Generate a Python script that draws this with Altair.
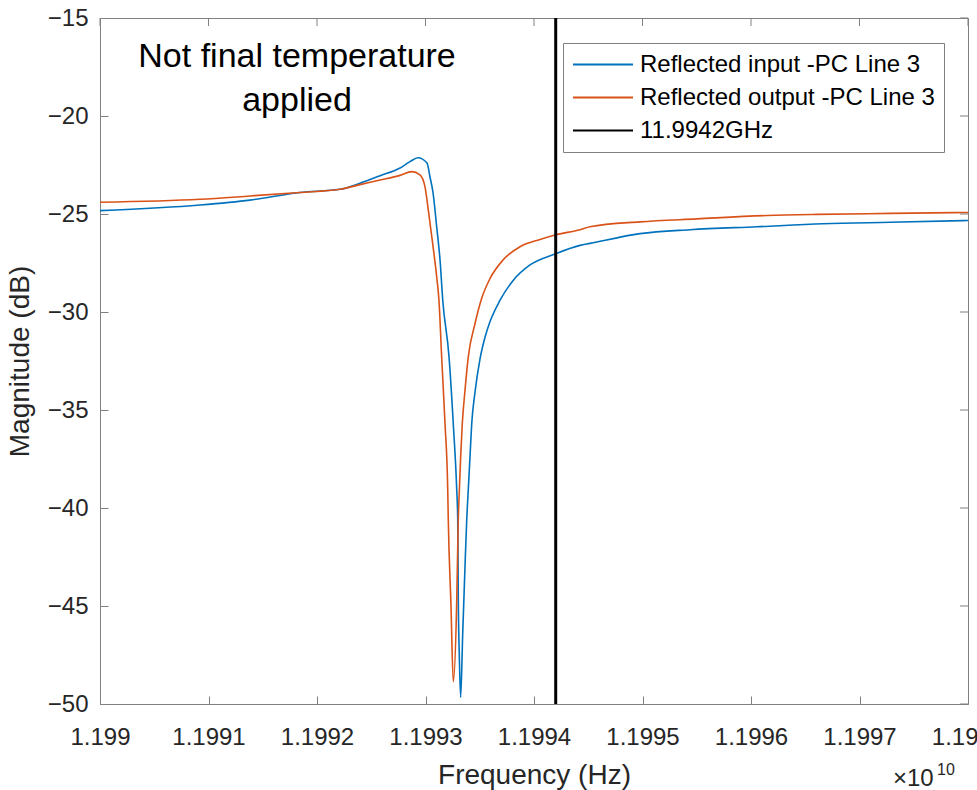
import altair as alt
import pandas as pd

# ---- data (x in units of 1e10 Hz, y in dB) ----
freq_in = [1.1990000, 1.1990922, 1.1991382, 1.1991843, 1.1992212, 1.1992396, 1.1992581,
           1.1992765, 1.1992857, 1.1992931, 1.1993014, 1.1993041, 1.1993069, 1.1993103,
           1.1993134, 1.1993159, 1.1993217, 1.1993256, 1.1993288, 1.1993297, 1.1993302,
           1.1993312, 1.1993324, 1.1993343, 1.1993364, 1.1993380, 1.1993394, 1.1993410,
           1.1993426, 1.1993456, 1.1993502, 1.1993548, 1.1993594, 1.1993687, 1.1993806,
           1.1993963, 1.1994194, 1.1994424, 1.1994516, 1.1994977, 1.1995438, 1.1996055,
           1.1996664, 1.1997281, 1.1998000]
mag_in = [-24.83, -24.54, -24.29, -23.90, -23.74, -23.43, -23.05,
          -22.65, -22.33, -22.13, -22.40, -23.10, -23.90, -25.65,
          -27.35, -29.40, -32.30, -35.70, -39.10, -40.60, -44.50,
          -47.60, -49.66, -46.40, -43.00, -40.60, -39.10, -37.40,
          -35.70, -34.10, -32.40, -31.30, -30.50, -29.40, -28.40,
          -27.60, -27.04, -26.60, -26.50, -26.00, -25.80, -25.65,
          -25.50, -25.42, -25.33]

freq_out = [1.1990000, 1.1990922, 1.1991382, 1.1991843, 1.1992212, 1.1992396, 1.1992581,
            1.1992765, 1.1992873, 1.1992949, 1.1992995, 1.1993026, 1.1993066, 1.1993103,
            1.1993124, 1.1993149, 1.1993180, 1.1993205, 1.1993210, 1.1993235, 1.1993256,
            1.1993288, 1.1993302, 1.1993312, 1.1993324, 1.1993339, 1.1993364, 1.1993394,
            1.1993456, 1.1993518, 1.1993594, 1.1993714, 1.1993871, 1.1994055, 1.1994194,
            1.1994424, 1.1994516, 1.1994977, 1.1995502, 1.1996147, 1.1996608, 1.1997281,
            1.1998000]
mag_out = [-24.40, -24.25, -24.08, -23.90, -23.74, -23.50, -23.27,
           -23.03, -22.84, -23.00, -23.60, -24.80, -26.50, -28.20,
           -29.40, -32.30, -35.70, -39.10, -40.60, -45.00, -48.86,
           -44.70, -40.60, -39.10, -37.40, -35.70, -34.00, -32.30,
           -30.60, -29.30, -28.30, -27.35, -26.67, -26.30, -26.07,
           -25.80, -25.65, -25.40, -25.25, -25.08, -25.02, -24.97,
           -24.92]

marker_freq = [1.19942, 1.19942]
marker_mag = [-50, -15]

series_names = ["Reflected input -PC Line 3", "Reflected output -PC Line 3", "11.9942GHz"]
series_colors = ["#0072BD", "#D95319", "#000000"]
series_widths = [1.6, 1.6, 3.0]

x_ticks = [1.199, 1.1991, 1.1992, 1.1993, 1.1994, 1.1995, 1.1996, 1.1997, 1.1998]
y_ticks = [-50, -45, -40, -35, -30, -25, -20, -15]
x_domain = [1.199, 1.1998]
y_domain = [-50, -15]

annotation_lines = ["Not final temperature", "applied"]
annotation_pos = [1.1991816, -17.5]
exponent_base = "\u00d710"
exponent_power = "10"

# ---- tables ----
df = pd.concat([
    pd.DataFrame({"freq": freq_in, "mag": mag_in, "series": series_names[0], "lw": series_widths[0]}),
    pd.DataFrame({"freq": freq_out, "mag": mag_out, "series": series_names[1], "lw": series_widths[1]}),
    pd.DataFrame({"freq": marker_freq, "mag": marker_mag, "series": series_names[2], "lw": series_widths[2]}),
], ignore_index=True)

FONT = "Liberation Sans"
TXT = "#262626"
AX = "#808080"

xscale = alt.Scale(domain=x_domain, nice=False, zero=False)
yscale = alt.Scale(domain=y_domain, nice=False, zero=False)

x_axis = alt.Axis(
    orient="bottom", values=x_ticks, format=".4~f", title="Frequency (Hz)",
    offset=-8, tickSize=8, domain=False, grid=False, labelFlush=False,
    labelOverlap=False, labelBound=False, labelPadding=21,
    labelFontSize=24, labelFont=FONT, labelColor=TXT,
    titleFontSize=28, titleFont=FONT, titleColor=TXT, titleFontWeight="normal",
    titlePadding=12, tickColor=AX)
y_axis = alt.Axis(
    orient="left", values=y_ticks, format="d", title="Magnitude (dB)",
    offset=-8, tickSize=8, domain=False, grid=False, labelPadding=12,
    labelOverlap=False, labelBound=False, labelFlush=False,
    labelFontSize=24, labelFont=FONT, labelColor=TXT,
    titleFontSize=28, titleFont=FONT, titleColor=TXT, titleFontWeight="normal",
    titlePadding=13, tickColor=AX)

legend = alt.Legend(
    title=None, orient="none", legendX=463, legendY=25, direction="vertical",
    symbolType="stroke", symbolSize=3600, clipHeight=25, symbolStrokeWidth=2,
    labelFontSize=24, labelFont=FONT, labelColor="#000000", labelOffset=6, labelLimit=500,
    padding=9, rowPadding=8, strokeColor=AX, fillColor="white",
)

lines = alt.Chart(df).mark_line(interpolate="monotone", clip=True).encode(
    x=alt.X("freq:Q", scale=xscale, axis=x_axis),
    y=alt.Y("mag:Q", scale=yscale, axis=y_axis),
    color=alt.Color("series:N", scale=alt.Scale(domain=series_names, range=series_colors), legend=legend),
    strokeWidth=alt.StrokeWidth("lw:Q", scale=None, legend=None),
    detail="series:N",
)

# inward ticks on the top and right edges of the box, at the axis tick values
top_ticks = alt.Chart(pd.DataFrame({"freq": x_ticks})).mark_rule(color=AX, strokeWidth=1).encode(
    x=alt.X("freq:Q", scale=xscale, axis=x_axis), y=alt.value(0), y2=alt.value(8))
right_ticks = alt.Chart(pd.DataFrame({"mag": y_ticks})).mark_rule(color=AX, strokeWidth=1).encode(
    y=alt.Y("mag:Q", scale=yscale, axis=y_axis), x=alt.value(860), x2=alt.value(868))

ann_df = pd.DataFrame({"freq": [annotation_pos[0]], "mag": [annotation_pos[1]], "t": ["\n".join(annotation_lines)]})
annotation = alt.Chart(ann_df).mark_text(
    font=FONT, fontSize=34, color="#000000", align="center", baseline="alphabetic",
    lineBreak="\n", lineHeight=44,
).encode(x=alt.X("freq:Q", scale=xscale, axis=x_axis),
         y=alt.Y("mag:Q", scale=yscale, axis=y_axis), text="t:N")

exp_df = pd.DataFrame({"b": [exponent_base], "p": [exponent_power]})
exp_base = alt.Chart(exp_df).mark_text(
    font=FONT, fontSize=24, color=TXT, align="left", baseline="alphabetic"
).encode(x=alt.value(793), y=alt.value(768), text="b:N")
exp_pow = alt.Chart(exp_df).mark_text(
    font=FONT, fontSize=16, color=TXT, align="left", baseline="alphabetic"
).encode(x=alt.value(837), y=alt.value(757), text="p:N")

chart = alt.layer(lines, top_ticks, right_ticks, annotation, exp_base, exp_pow).properties(
    width=868, height=686,
    autosize=alt.AutoSizeParams(type="none"),
    padding={"left": 100, "top": 18, "right": 9, "bottom": 86},
    background="white",
).configure_view(stroke=AX, strokeWidth=1)

chart.save("out.html", embed_options={"renderer": "svg", "actions": False})
